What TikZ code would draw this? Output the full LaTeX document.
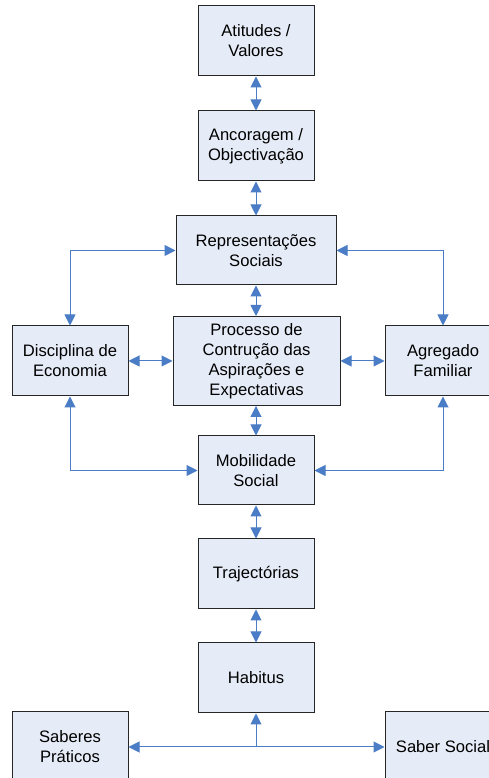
\documentclass[tikz,border=0pt]{standalone}
\usepackage{fontspec}
\setmainfont{Liberation Sans}
\usetikzlibrary{arrows.meta}

\definecolor{caixafundo}{HTML}{E6ECF7}
\definecolor{setaazul}{HTML}{4A7DC6}

\tikzset{
  caixa/.style={draw=black!85, line width=1pt, fill=caixafundo, inner sep=0pt,
    minimum width=116pt, minimum height=70pt, align=center,
    font=\fontsize{16.6}{20}\selectfont},
  seta/.style={draw=setaazul, line width=1pt,
    {Triangle[length=11pt,width=11pt]}-{Triangle[length=11pt,width=11pt]}},
  setaum/.style={draw=setaazul, line width=1pt, -{Triangle[length=11pt,width=11pt]}}
}

\begin{document}
\begin{tikzpicture}[x=1pt, y=1pt]
      \path[use as bounding box, fill=white] (0,0) rectangle (489,778);
      \node[caixa] (atitudes) at (256, 737) {Atitudes /\\Valores};
      \node[caixa] (ancoragem) at (256, 632) {Ancoragem /\\Objectivação};
      \node[caixa, minimum width=160pt, minimum height=69pt] (repres) at (256, 527.5) {Representações\\Sociais};
      \node[caixa, minimum width=167pt, minimum height=89pt] (processo) at (256.5, 417) {Processo de\\Contrução das\\Aspirações e\\Expectativas};
      \node[caixa] (disciplina) at (70, 417) {Disciplina de\\Economia};
      \node[caixa] (agregado) at (443, 417) {Agregado\\Familiar};
      \node[caixa, minimum height=69pt] (mobilidade) at (256, 307.5) {Mobilidade\\Social};
      \node[caixa] (trajectorias) at (256, 204) {Trajectórias};
      \node[caixa] (habitus) at (256, 100) {Habitus};
      \node[caixa] (saberes) at (70, 31) {Saberes\\Práticos};
      \node[caixa] (sabersocial) at (443, 31) {Saber Social};
      \coordinate (juncao) at (habitus.south |- saberes.east);
      \draw[seta] (atitudes) -- (ancoragem);
      \draw[seta] (ancoragem) -- (repres);
      \draw[seta] (repres) -- (processo.north -| repres.south);
      \draw[seta] (processo.south -| mobilidade.north) -- (mobilidade);
      \draw[seta] (mobilidade) -- (trajectorias);
      \draw[seta] (trajectorias) -- (habitus);
      \draw[seta] (disciplina.east) -- (processo.west);
      \draw[seta] (processo.east) -- (agregado.west);
      \draw[seta] (repres.west) -| (disciplina.north);
      \draw[seta] (repres.east) -| (agregado.north);
      \draw[seta] (disciplina.south) |- (mobilidade.west);
      \draw[seta] (agregado.south) |- (mobilidade.east);
      \draw[setaum] (juncao) -- (habitus.south);
      \draw[seta] (saberes.east) -- (sabersocial.west);
\end{tikzpicture}
\end{document}
